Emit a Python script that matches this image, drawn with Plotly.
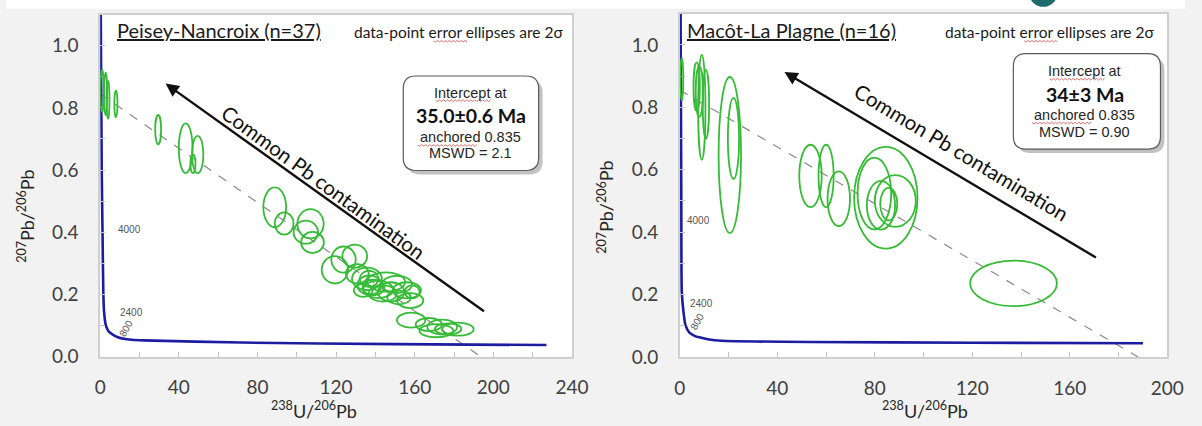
import plotly.graph_objects as go

W, H = 1202, 426

# ---------------- data ----------------
# Left panel: Peisey-Nancroix (n=37): ellipse centres and 2-sigma half-axes
pn_x = [1.0, 2.8, 4.0, 8.0, 29.5, 43.5, 49.6, 47.2, 88.8, 93.6, 107.0, 104.6, 108.0,
        119.4, 123.8, 129.5, 130.8, 135.7, 137.0, 145.4, 148.0, 156.0, 157.7, 141.4,
        143.8, 151.0, 136.8, 158.7, 133.8, 158.2, 167.2, 174.0, 171.0, 182.0, 177.0,
        139.0, 152.0]
pn_y = [0.855, 0.845, 0.826, 0.813, 0.730, 0.670, 0.650, 0.620, 0.480, 0.428, 0.427,
        0.400, 0.367, 0.279, 0.312, 0.323, 0.266, 0.250, 0.230, 0.240, 0.208, 0.213,
        0.180, 0.216, 0.203, 0.232, 0.250, 0.208, 0.213, 0.117, 0.103, 0.095, 0.083,
        0.088, 0.089, 0.222, 0.190]
pn_sx = [0.9, 0.8, 0.75, 0.8, 1.5, 3.5, 2.9, 1.3, 5.8, 4.8, 6.7, 6.2, 5.8,
         6.7, 6.2, 6.3, 5.8, 7.6, 6.2, 9.7, 6.7, 7.2, 6.7, 7.6,
         7.2, 7.6, 4.8, 3.8, 4.8, 7.2, 6.7, 7.6, 8.6, 8.0, 6.7,
         5.5, 6.0]
pn_sy = [0.068, 0.068, 0.061, 0.043, 0.047, 0.080, 0.060, 0.030, 0.064, 0.036, 0.047,
         0.037, 0.034, 0.044, 0.042, 0.037, 0.031, 0.036, 0.031, 0.031, 0.031, 0.026,
         0.024, 0.028, 0.026, 0.028, 0.026, 0.021, 0.021, 0.024, 0.021, 0.024, 0.021,
         0.021, 0.018, 0.025, 0.022]

# Right panel: Macot-La Plagne (n=16)
mlp_x = [0.8, 6.9, 9.0, 10.7, 8.0, 20.5, 22.0, 53.6, 60.0, 65.2, 84.5, 79.8, 82.5, 88.4, 85.7, 136.9]
mlp_y = [0.890, 0.866, 0.800, 0.810, 0.850, 0.647, 0.700, 0.580, 0.580, 0.507, 0.510,
         0.524, 0.486, 0.500, 0.490, 0.236]
mlp_sx = [0.6, 1.3, 1.5, 1.3, 1.5, 4.6, 2.3, 4.6, 3.1, 4.6, 13.0, 6.9, 5.8, 8.4, 3.5, 17.8]
mlp_sy = [0.068, 0.078, 0.168, 0.110, 0.080, 0.250, 0.130, 0.100, 0.100, 0.088, 0.163,
          0.115, 0.078, 0.083, 0.052, 0.073]

# Tera-Wasserburg concordia
conc1_x = [0.3, 0.8, 1.2, 1.6, 2.0, 2.8, 3.5, 4.5, 7.0, 9.0, 12.0, 16.0, 22.0, 72.0, 150.0, 227.0]
conc1_y = [1.10, 0.60, 0.40, 0.207, 0.144, 0.103, 0.090, 0.079, 0.068, 0.062, 0.057, 0.054,
           0.052, 0.045, 0.040, 0.037]
conc2_x = [0.3, 0.6, 0.8, 1.5, 2.3, 3.9, 6.0, 8.0, 12.0, 17.0, 53.0, 120.0, 190.0]
conc2_y = [1.10, 0.50, 0.207, 0.144, 0.102, 0.078, 0.068, 0.063, 0.056, 0.052, 0.048, 0.046, 0.044]

# anchored regression lines
reg1_x = [0.0, 193.5]
reg1_y = [0.845, 0.0]
reg2_x = [0.0, 188.0]
reg2_y = [0.855, 0.0]

# concordia age labels
conc_labels = ["4000", "2400", "800"]
conc1_lab_x = [15.0, 15.7, 13.2]
conc1_lab_y = [0.41, 0.142, 0.089]
conc2_lab_x = [7.8, 8.8, 7.2]
conc2_lab_y = [0.437, 0.17, 0.113]

# arrows (head, tail)
arrow1 = [(33.3, 0.878), (196.0, 0.142)]
arrow2 = [(42.9, 0.913), (171.3, 0.316)]

x_ticks_left = [0, 40, 80, 120, 160, 200, 240]
x_ticks_right = [0, 40, 80, 120, 160, 200]
y_ticks = [0.0, 0.2, 0.4, 0.6, 0.8, 1.0]

titles = ["Peisey-Nancroix (n=37)", "Macôt-La Plagne (n=16)"]
ages = ["35.0±0.6 Ma", "34±3 Ma"]
mswd = ["MSWD = 2.1", "MSWD = 0.90"]

# ---------------- helpers ----------------
def px(x):
    return x / W

def py(y):
    return 1 - y / H

GREEN = "#36bb36"
NAVY = "#1c1ca0"
TXT = "#404040"
FONT = "Lato"
ARIAL = "Liberation Sans"

fig = go.Figure()

# concordia + regression
fig.add_trace(go.Scatter(x=reg1_x, y=reg1_y, mode="lines", xaxis="x", yaxis="y",
                         line=dict(color="#8a8a8a", width=1.2, dash="dash"), hoverinfo="skip"))
fig.add_trace(go.Scatter(x=reg2_x, y=reg2_y, mode="lines", xaxis="x2", yaxis="y2",
                         line=dict(color="#8a8a8a", width=1.2, dash="dash"), hoverinfo="skip"))
fig.add_trace(go.Scatter(x=conc1_x, y=conc1_y, mode="lines", xaxis="x", yaxis="y",
                         line=dict(color=NAVY, width=2.6, shape="spline", smoothing=0.6), hoverinfo="skip"))
fig.add_trace(go.Scatter(x=conc2_x, y=conc2_y, mode="lines", xaxis="x2", yaxis="y2",
                         line=dict(color=NAVY, width=2.6, shape="spline", smoothing=0.6), hoverinfo="skip"))

shapes = []
# top white strip
shapes.append(dict(type="rect", xref="paper", yref="paper", x0=0, x1=1, y0=py(9), y1=1.02,
                   fillcolor="white", line=dict(width=0), layer="below"))
# teal circle (cut off at top)
shapes.append(dict(type="circle", xref="paper", yref="paper",
                   x0=px(1043), x1=px(1072), y0=py(7), y1=py(-22),
                   fillcolor="#1d6b6b", line=dict(width=0)))

# ellipses
for cx, cy, sx, sy in zip(pn_x, pn_y, pn_sx, pn_sy):
    shapes.append(dict(type="circle", xref="x", yref="y", x0=cx - sx, x1=cx + sx,
                       y0=cy - sy, y1=cy + sy, line=dict(color=GREEN, width=1.8)))
for cx, cy, sx, sy in zip(mlp_x, mlp_y, mlp_sx, mlp_sy):
    shapes.append(dict(type="circle", xref="x2", yref="y2", x0=cx - sx, x1=cx + sx,
                       y0=cy - sy, y1=cy + sy, line=dict(color=GREEN, width=1.8)))


def rrect(x0, y0, x1, y1, r):
    # pixel coords -> rounded rect path in paper coords
    pts = [
        ("M", [(x0 + r, y0)]),
        ("L", [(x1 - r, y0)]),
        ("Q", [(x1, y0), (x1, y0 + r)]),
        ("L", [(x1, y1 - r)]),
        ("Q", [(x1, y1), (x1 - r, y1)]),
        ("L", [(x0 + r, y1)]),
        ("Q", [(x0, y1), (x0, y1 - r)]),
        ("L", [(x0, y0 + r)]),
        ("Q", [(x0, y0), (x0 + r, y0)]),
    ]
    s = ""
    for cmd, ps in pts:
        s += cmd + " ".join(f"{px(a):.5f},{py(b):.5f}" for a, b in ps) + " "
    return s + "Z"


def squiggle(x0, x1, y):
    # spell-check style wavy underline, pixel coords -> paper path
    s = f"M{px(x0):.5f},{py(y):.5f}"
    k = 0
    x = x0
    while x < x1:
        x = min(x + 2, x1)
        k += 1
        yy = y + (1.2 if k % 2 else -0.6)
        s += f" L{px(x):.5f},{py(yy):.5f}"
    return s


boxes = [(405, 78, 543, 175), (1027, 55, 1177, 153)]
for (x0, y0, x1, y1) in boxes:
    shapes.append(dict(type="path", xref="paper", yref="paper", path=rrect(x0 + 4, y0 + 4, x1 + 4, y1 + 4, 13),
                       fillcolor="rgba(120,120,120,0.45)", line=dict(width=0)))
    shapes.append(dict(type="path", xref="paper", yref="paper", path=rrect(x0, y0, x1, y1, 13),
                       fillcolor="white", line=dict(color="#5a5a5a", width=1.2)))

# red spell-check underlines
for (a, b, c) in [(436, 470, 42), (1038, 1072, 42), (438, 494, 103), (420, 480, 149),
                  (1064, 1120, 81), (1046, 1106, 126)]:
    shapes.append(dict(type="path", xref="paper", yref="paper", path=squiggle(a, b, c),
                       line=dict(color="#e07070", width=1)))

ann = []


def pann(x, y, text, font, xanchor="center", yanchor="middle", **kw):
    ann.append(dict(x=px(x), y=py(y), xref="paper", yref="paper", text=text, showarrow=False,
                    xanchor=xanchor, yanchor=yanchor, font=font, **kw))


# box texts
box_txt = [
    (474, [95, 119, 141, 157]),
    (1100, [73, 97, 118, 135]),
]
for i, (cx, ys) in enumerate(box_txt):
    pann(cx, ys[0], "Intercept at", dict(family=ARIAL, size=14.5, color="#262626"))
    pann(cx, ys[1], "<b>" + ages[i] + "</b>", dict(family=FONT, size=19.5, color="#111111"))
    pann(cx, ys[2], "anchored 0.835", dict(family=ARIAL, size=14.5, color="#262626"))
    pann(cx, ys[3], mswd[i], dict(family=ARIAL, size=14.5, color="#262626"))

# panel titles
pann(111, 31, "<u>" + titles[0] + "</u>", dict(family=FONT, size=20, color="#1a1a1a"), xanchor="left")
pann(692, 31, "<u>" + titles[1] + "</u>", dict(family=FONT, size=20, color="#1a1a1a"), xanchor="left")
for xr in (570, 1172):
    pann(xr, 33, "data-point error ellipses are 2σ", dict(family=FONT, size=15.5, color="#1a1a1a"),
         xanchor="right")

# arrows + rotated text
for (head, tail), xr, yr in ((arrow1, "x", "y"), (arrow2, "x2", "y2")):
    ann.append(dict(x=head[0], y=head[1], ax=tail[0], ay=tail[1], xref=xr, yref=yr,
                    axref=xr, ayref=yr, text="", showarrow=True, arrowhead=2,
                    arrowsize=1.1, arrowwidth=2.4, arrowcolor="#111111"))
ann.append(dict(x=113.5, y=0.562, xref="x", yref="y", text="Common Pb contamination",
                textangle=36, showarrow=False, xanchor="center", yanchor="middle",
                font=dict(family=FONT, size=20.5, color="#111111")))
ann.append(dict(x=115.5, y=0.657, xref="x2", yref="y2", text="Common Pb contamination",
                textangle=31, showarrow=False, xanchor="center", yanchor="middle",
                font=dict(family=FONT, size=20.5, color="#111111")))

# concordia labels
for lab, lx, ly in zip(conc_labels, conc1_lab_x, conc1_lab_y):
    ann.append(dict(x=lx, y=ly, xref="x", yref="y", text=lab, showarrow=False,
                    xanchor="center", yanchor="middle",
                    textangle=-60 if lab == "800" else 0,
                    font=dict(family=ARIAL, size=10, color="#555555")))
for lab, lx, ly in zip(conc_labels, conc2_lab_x, conc2_lab_y):
    ann.append(dict(x=lx, y=ly, xref="x2", yref="y2", text=lab, showarrow=False,
                    xanchor="center", yanchor="middle",
                    textangle=-60 if lab == "800" else 0,
                    font=dict(family=ARIAL, size=10, color="#555555")))

# axis titles
ytitle = "<sup>207</sup>Pb/<sup>206</sup>Pb"
xtitle = "<sup>238</sup>U/<sup>206</sup>Pb"
pann(21, 222, ytitle, dict(family=FONT, size=18, color="#262626"), textangle=-90)
pann(611, 212, ytitle, dict(family=FONT, size=18, color="#262626"), textangle=-90)
pann(314, 421, xtitle, dict(family=FONT, size=18, color="#262626"))
pann(937, 421, xtitle, dict(family=FONT, size=18, color="#262626"))

axis_common = dict(showgrid=False, zeroline=False, showline=True, linecolor="#cfcfcf",
                   linewidth=1.5, mirror=True, ticks="inside", ticklen=5, tickcolor="#c4c4c4",
                   tickfont=dict(family=FONT, size=19, color=TXT), fixedrange=True)

fig.update_layout(
    width=W, height=H, autosize=False,
    margin=dict(l=0, r=0, t=0, b=0, pad=0),
    paper_bgcolor="#f2f2f2", plot_bgcolor="white",
    showlegend=False,
    shapes=shapes, annotations=ann,
    xaxis=dict(domain=[px(96), px(577)], range=[0, 240], anchor="y",
               tickvals=x_ticks_left, ticklabelstandoff=13,
               minor=dict(dtick=20, ticks="inside", ticklen=5, tickcolor="#c4c4c4"),
               **axis_common),
    yaxis=dict(domain=[py(366), py(15)], range=[0, 1.1], anchor="x",
               tickvals=y_ticks, tickformat=".1f", ticklabelstandoff=16,
               minor=dict(dtick=0.1, ticks="inside", ticklen=5, tickcolor="#c4c4c4"),
               **axis_common),
    xaxis2=dict(domain=[px(687), px(1184)], range=[0, 200], anchor="y2",
                tickvals=x_ticks_right, ticklabelstandoff=13,
                minor=dict(dtick=20, ticks="inside", ticklen=5, tickcolor="#c4c4c4"),
                **axis_common),
    yaxis2=dict(domain=[py(366.5), py(14)], range=[0, 1.1], anchor="x2",
                tickvals=y_ticks, tickformat=".1f", ticklabelstandoff=16,
                minor=dict(dtick=0.1, ticks="inside", ticklen=5, tickcolor="#c4c4c4"),
                **axis_common),
)

post = (
    "document.documentElement.style.margin='0';"
    "document.documentElement.style.overflow='hidden';"
    "document.body.style.margin='0';document.body.style.padding='0';"
    "document.body.style.overflow='hidden';"
    "var gd=document.getElementById('{plot_id}');"
    "Plotly.relayout(gd,{width:window.innerWidth,height:window.innerHeight});"
)
fig.write_html("out.html", config={"displayModeBar": False, "responsive": False},
               post_script=post)
